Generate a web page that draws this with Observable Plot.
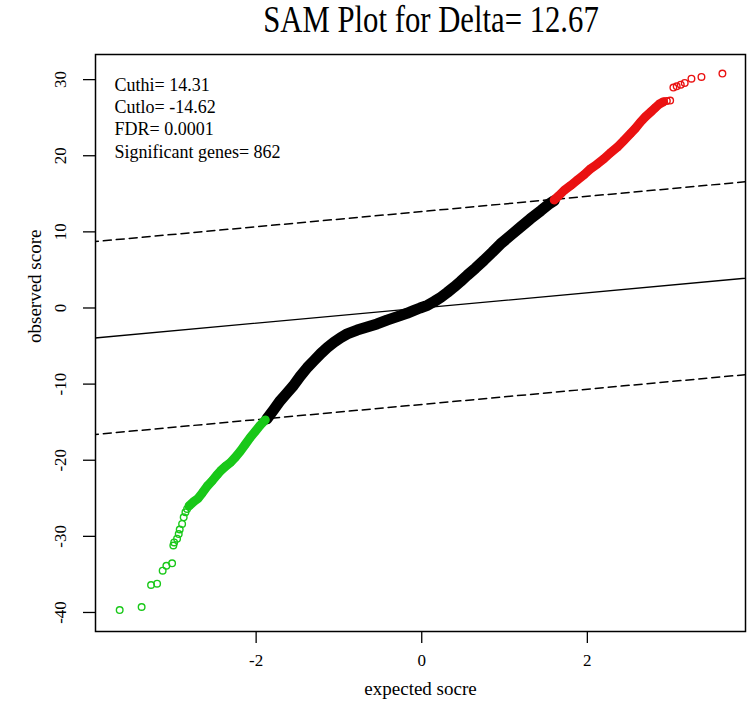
<!DOCTYPE html>
<html><head><meta charset="utf-8">
<script src="https://cdn.jsdelivr.net/npm/d3@7"></script>
<script src="https://cdn.jsdelivr.net/npm/@observablehq/plot@0.6"></script>
<style>
html,body{margin:0;padding:0;background:#fff;overflow:hidden;}
#title{height:40px;width:749px;position:relative;font-family:"Liberation Serif","Times New Roman",serif;}
#title span{position:absolute;left:431px;top:1px;transform:translateX(-50%) scaleX(0.83);font-size:37px;line-height:37px;white-space:nowrap;color:#000;}
#chart svg{display:block;}
</style></head><body>
<div id="title"><span>SAM Plot for Delta= 12.67</span></div>
<div id="chart"></div>
<script>
// ---- data ----
const delta = 12.67;
const cuthi = 14.31;
const cutlo = -14.62;
const fdr = "0.0001";
const sigGenes = 862;

const xTicks = [-2, 0, 2];
const yTicks = [-40, -30, -20, -10, 0, 10, 20, 30];
const xDomain = [-3.94, 3.91];
const yDomain = [-42.5, 33.3];

// sparse low tail (green circles)
const greenTailX = [-3.648, -3.383, -3.269, -3.196, -3.129, -3.084, -3.015, -3.000, -2.990, -2.955, -2.935, -2.923, -2.894, -2.875, -2.854, -2.834];
const greenTailY = [-39.68, -39.28, -36.39, -36.22, -34.51, -33.86, -33.55, -31.20, -30.80, -30.30, -29.70, -29.10, -28.37, -27.50, -26.85, -26.40];
// dense green band
const greenX = [-2.81, -2.75, -2.70, -2.65, -2.59, -2.53, -2.47, -2.43, -2.37, -2.31, -2.25, -2.19, -2.13, -2.07, -2.01, -1.95, -1.89];
const greenY = [-26.0, -25.4, -25.0, -24.3, -23.4, -22.7, -21.9, -21.4, -20.8, -20.3, -19.6, -18.8, -17.9, -17.0, -16.2, -15.4, -14.7];
// dense black band (non-significant)
const blackX = [-1.87, -1.79, -1.71, -1.63, -1.55, -1.47, -1.38, -1.30, -1.22, -1.14, -1.06, -0.98, -0.90, -0.78, -0.66, -0.54, -0.42, -0.34, -0.26, -0.18, -0.10, -0.02, 0.07, 0.15, 0.23, 0.31, 0.39, 0.47, 0.55, 0.65, 0.75, 0.85, 0.95, 1.07, 1.19, 1.31, 1.44, 1.53, 1.60];
const blackY = [-14.57, -13.4, -12.2, -11.2, -10.2, -9.0, -7.8, -6.9, -6.0, -5.2, -4.5, -3.9, -3.4, -2.9, -2.5, -2.1, -1.6, -1.3, -1.0, -0.7, -0.35, 0.0, 0.35, 0.85, 1.4, 2.05, 2.75, 3.5, 4.3, 5.25, 6.25, 7.3, 8.4, 9.5, 10.6, 11.7, 12.8, 13.6, 14.1];
// dense red band
const redX = [1.60, 1.65, 1.72, 1.80, 1.88, 1.96, 2.04, 2.12, 2.20, 2.28, 2.36, 2.44, 2.52, 2.58, 2.64, 2.70, 2.77, 2.82, 2.87, 2.92];
const redY = [14.2, 14.7, 15.45, 16.1, 16.8, 17.5, 18.3, 18.9, 19.6, 20.4, 21.1, 22.0, 22.9, 23.6, 24.4, 25.1, 25.8, 26.3, 26.8, 27.1];
// sparse high tail (red circles)
const redTailX = [2.96, 3.00, 3.039, 3.079, 3.128, 3.176, 3.257, 3.378, 3.631];
const redTailY = [27.2, 27.25, 28.95, 29.12, 29.34, 29.56, 30.13, 30.35, 30.79];

const xLabel = "expected socre";
const yLabel = "observed score";
const legendLines = [`Cuthi= ${cuthi}`, `Cutlo= ${cutlo}`, `FDR= ${fdr}`, `Significant genes= ${sigGenes}`];

// ---- build tables ----
const pts = (xs, ys) => xs.map((x, i) => ({x, y: ys[i]}));
const greenTail = pts(greenTailX, greenTailY);
const green = pts(greenX, greenY);
const black = pts(blackX, blackY);
const red = pts(redX, redY);
const redTail = pts(redTailX, redTailY);
const refEnds = [xDomain[0] - 1, xDomain[1] + 1];
const refLine = (off) => refEnds.map(x => ({x, y: x + off}));

const RED = "#ea1212", GREEN = "#19c819";
const font = "Liberation Serif, Times New Roman, serif";
const fmt = d => String(d);

const chart = Plot.plot({
  width: 749, height: 686,
  marginTop: 14, marginRight: 4, marginBottom: 95, marginLeft: 95,
  style: {fontFamily: font, background: "#fff", color: "#000"},
  x: {domain: xDomain},
  y: {domain: yDomain},
  marks: [
    Plot.line(refLine(0), {x: "x", y: "y", stroke: "#000", strokeWidth: 1.3, clip: true}),
    Plot.line(refLine(delta), {x: "x", y: "y", stroke: "#000", strokeWidth: 1.5, strokeDasharray: "8,5", clip: true}),
    Plot.line(refLine(-delta), {x: "x", y: "y", stroke: "#000", strokeWidth: 1.5, strokeDasharray: "8,5", clip: true}),
    Plot.line(black, {x: "x", y: "y", stroke: "#000", strokeWidth: 11, strokeLinecap: "round", strokeLinejoin: "round"}),
    Plot.dot(black, {x: "x", y: "y", r: 3.3, stroke: "#000", strokeWidth: 1.4, fill: "none"}),
    Plot.line(green, {x: "x", y: "y", stroke: GREEN, strokeWidth: 9, strokeLinecap: "round", strokeLinejoin: "round"}),
    Plot.line(red, {x: "x", y: "y", stroke: RED, strokeWidth: 9, strokeLinecap: "round", strokeLinejoin: "round"}),
    Plot.dot(greenTail, {x: "x", y: "y", r: 3.3, stroke: GREEN, strokeWidth: 1.4, fill: "none"}),
    Plot.dot(green, {x: "x", y: "y", r: 3.3, stroke: GREEN, strokeWidth: 1.4, fill: "none"}),
    Plot.dot(red, {x: "x", y: "y", r: 3.3, stroke: RED, strokeWidth: 1.4, fill: "none"}),
    Plot.dot(redTail, {x: "x", y: "y", r: 3.3, stroke: RED, strokeWidth: 1.4, fill: "none"}),
    Plot.frame({stroke: "#000", strokeWidth: 1.5}),
    Plot.axisX({ticks: xTicks, tickFormat: fmt, tickSize: 12, tickPadding: 10, fontSize: 17, label: null, stroke: "#000", strokeWidth: 1.3}),
    Plot.axisY({ticks: yTicks, tickFormat: fmt, tickSize: 12, tickRotate: -90, tickPadding: 18, fontSize: 17, label: null, stroke: "#000", strokeWidth: 1.3}),
    Plot.text([xLabel], {frameAnchor: "bottom", dy: 63, fontSize: 19, fill: "#000"}),
    Plot.text([yLabel], {frameAnchor: "left", dx: -61, rotate: -90, fontSize: 19, fill: "#000"}),
    Plot.text([legendLines.join("\n")], {frameAnchor: "top-left", dx: 19, dy: 21, textAnchor: "start", lineAnchor: "top", lineHeight: 1.23, fontSize: 18, fill: "#000"})
  ]
});
document.getElementById("chart").appendChild(chart);
</script>
</body></html>
